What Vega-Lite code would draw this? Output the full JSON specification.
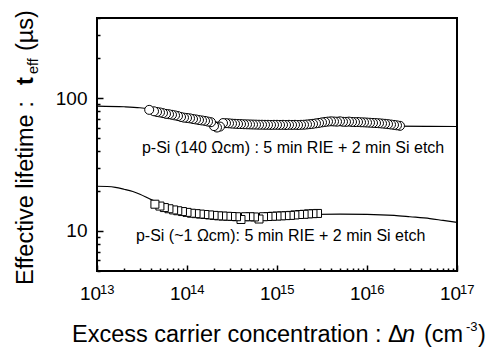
{
  "$schema": "https://vega.github.io/schema/vega-lite/v6.json",
  "width": 360,
  "height": 253,
  "autosize": {"type": "none"},
  "padding": {"left": 97, "top": 18, "right": 41, "bottom": 78},
  "background": "white",
  "config": {
    "view": {"stroke": "black", "strokeWidth": 2},
    "font": "Liberation Sans",
    "text": {"font": "Liberation Sans", "color": "black"}
  },
  "datasets": {
    "fit": [
      {"s": "a", "n": 1e13, "tau": 87}, {"s": "a", "n": 2e13, "tau": 86}, {"s": "a", "n": 3e13, "tau": 84.5},
      {"s": "a", "n": 4e13, "tau": 82.5}, {"s": "a", "n": 5e13, "tau": 80}, {"s": "a", "n": 7e13, "tau": 76},
      {"s": "a", "n": 1e14, "tau": 71.5}, {"s": "a", "n": 1.5e14, "tau": 68}, {"s": "a", "n": 2e14, "tau": 66.3},
      {"s": "a", "n": 3e14, "tau": 64.5}, {"s": "a", "n": 5e14, "tau": 63.3}, {"s": "a", "n": 1e15, "tau": 62.6},
      {"s": "a", "n": 2e15, "tau": 62.3}, {"s": "a", "n": 5e15, "tau": 62.2}, {"s": "a", "n": 1e16, "tau": 62},
      {"s": "a", "n": 2e16, "tau": 61.5}, {"s": "a", "n": 5e16, "tau": 61.2}, {"s": "a", "n": 1e17, "tau": 61.1},
      {"s": "b", "n": 1e13, "tau": 21.7}, {"s": "b", "n": 1.3e13, "tau": 21.6}, {"s": "b", "n": 1.6e13, "tau": 21.3},
      {"s": "b", "n": 2e13, "tau": 20.6}, {"s": "b", "n": 2.5e13, "tau": 19.8}, {"s": "b", "n": 3e13, "tau": 18.9},
      {"s": "b", "n": 4e13, "tau": 17.2}, {"s": "b", "n": 5e13, "tau": 16.2}, {"s": "b", "n": 7e13, "tau": 14.9},
      {"s": "b", "n": 1e14, "tau": 14.0}, {"s": "b", "n": 1.5e14, "tau": 13.4}, {"s": "b", "n": 2e14, "tau": 13.2},
      {"s": "b", "n": 3e14, "tau": 13.0}, {"s": "b", "n": 5e14, "tau": 12.9}, {"s": "b", "n": 1e15, "tau": 13.0},
      {"s": "b", "n": 2e15, "tau": 13.3}, {"s": "b", "n": 5e15, "tau": 13.4}, {"s": "b", "n": 1e16, "tau": 13.35},
      {"s": "b", "n": 2e16, "tau": 13.1}, {"s": "b", "n": 3e16, "tau": 12.8}, {"s": "b", "n": 5e16, "tau": 12.4},
      {"s": "b", "n": 7e16, "tau": 12.0}, {"s": "b", "n": 1e17, "tau": 11.6}
    ],
    "circ": [
      {"n": 3.8e13, "tau": 81.5}, {"n": 4.3e13, "tau": 79.5}, {"n": 4.64e13, "tau": 78.5}, {"n": 5.01e13, "tau": 77.9},
      {"n": 5.41e13, "tau": 77.0}, {"n": 5.84e13, "tau": 76.0}, {"n": 6.31e13, "tau": 75.5}, {"n": 6.81e13, "tau": 74.8},
      {"n": 7.36e13, "tau": 74.0}, {"n": 7.94e13, "tau": 73.2}, {"n": 8.58e13, "tau": 72.0}, {"n": 9.26e13, "tau": 71.2},
      {"n": 1.0e14, "tau": 70.8}, {"n": 1.08e14, "tau": 70.3}, {"n": 1.166e14, "tau": 69.5}, {"n": 1.259e14, "tau": 69.0},
      {"n": 1.359e14, "tau": 68.3}, {"n": 1.468e14, "tau": 67.8}, {"n": 1.585e14, "tau": 67.3}, {"n": 1.711e14, "tau": 66.5},
      {"n": 1.848e14, "tau": 65.8}, {"n": 1.995e14, "tau": 61.5}, {"n": 2.154e14, "tau": 60.0}, {"n": 2.326e14, "tau": 61.0},
      {"n": 2.512e14, "tau": 64.8}, {"n": 2.712e14, "tau": 64.7}, {"n": 2.929e14, "tau": 64.5}, {"n": 3.162e14, "tau": 64.2},
      {"n": 3.415e14, "tau": 64.0}, {"n": 3.687e14, "tau": 63.8}, {"n": 3.981e14, "tau": 63.7}, {"n": 4.299e14, "tau": 63.5},
      {"n": 4.642e14, "tau": 63.4}, {"n": 5.012e14, "tau": 63.3}, {"n": 5.412e14, "tau": 63.2}, {"n": 5.843e14, "tau": 63.1},
      {"n": 6.31e14, "tau": 63.0}, {"n": 6.813e14, "tau": 63.0}, {"n": 7.356e14, "tau": 62.9}, {"n": 7.943e14, "tau": 62.9},
      {"n": 8.577e14, "tau": 62.8}, {"n": 9.261e14, "tau": 62.9}, {"n": 1e15, "tau": 62.9}, {"n": 1.08e15, "tau": 62.8},
      {"n": 1.166e15, "tau": 62.9}, {"n": 1.259e15, "tau": 62.7}, {"n": 1.359e15, "tau": 62.9}, {"n": 1.468e15, "tau": 62.8},
      {"n": 1.585e15, "tau": 62.9}, {"n": 1.711e15, "tau": 62.7}, {"n": 1.848e15, "tau": 62.9}, {"n": 1.995e15, "tau": 63.0},
      {"n": 2.154e15, "tau": 63.3}, {"n": 2.326e15, "tau": 63.6}, {"n": 2.512e15, "tau": 64.0}, {"n": 2.712e15, "tau": 64.5},
      {"n": 2.929e15, "tau": 65.0}, {"n": 3.162e15, "tau": 65.6}, {"n": 3.415e15, "tau": 66.1}, {"n": 3.687e15, "tau": 66.5},
      {"n": 3.981e15, "tau": 66.8}, {"n": 4.299e15, "tau": 66.6}, {"n": 4.642e15, "tau": 66.4}, {"n": 5.012e15, "tau": 66.8},
      {"n": 5.412e15, "tau": 66.3}, {"n": 5.843e15, "tau": 66.2}, {"n": 6.31e15, "tau": 66.5}, {"n": 6.813e15, "tau": 66.1},
      {"n": 7.356e15, "tau": 65.9}, {"n": 7.943e15, "tau": 66.0}, {"n": 8.577e15, "tau": 65.7}, {"n": 9.261e15, "tau": 65.6},
      {"n": 1e16, "tau": 65.4}, {"n": 1.08e16, "tau": 65.2}, {"n": 1.166e16, "tau": 65.0}, {"n": 1.259e16, "tau": 64.8},
      {"n": 1.359e16, "tau": 64.6}, {"n": 1.468e16, "tau": 64.3}, {"n": 1.585e16, "tau": 64.0}, {"n": 1.711e16, "tau": 63.6},
      {"n": 1.848e16, "tau": 63.2}, {"n": 1.995e16, "tau": 62.8}, {"n": 2.154e16, "tau": 62.3}, {"n": 2.326e16, "tau": 61.8}
    ],
    "sq": [
      {"n": 4.4e13, "tau": 15.9}, {"n": 5.0e13, "tau": 15.4}, {"n": 5.6e13, "tau": 15.0}, {"n": 6.3e13, "tau": 14.7},
      {"n": 7.1e13, "tau": 14.4}, {"n": 7.9e13, "tau": 14.2}, {"n": 8.9e13, "tau": 14.0}, {"n": 1.0e14, "tau": 13.8},
      {"n": 1.12e14, "tau": 13.6}, {"n": 1.26e14, "tau": 13.5}, {"n": 1.41e14, "tau": 13.4}, {"n": 1.58e14, "tau": 13.3},
      {"n": 1.78e14, "tau": 13.2}, {"n": 2.0e14, "tau": 13.1}, {"n": 2.24e14, "tau": 13.0}, {"n": 2.51e14, "tau": 12.95},
      {"n": 2.82e14, "tau": 12.9}, {"n": 3.16e14, "tau": 12.85}, {"n": 3.55e14, "tau": 12.8}, {"n": 3.98e14, "tau": 12.2},
      {"n": 4.47e14, "tau": 12.8}, {"n": 5.01e14, "tau": 12.8}, {"n": 5.62e14, "tau": 12.75}, {"n": 6.31e14, "tau": 12.3},
      {"n": 7.08e14, "tau": 12.8}, {"n": 7.94e14, "tau": 12.85}, {"n": 8.91e14, "tau": 12.9}, {"n": 1.0e15, "tau": 12.95},
      {"n": 1.12e15, "tau": 13.0}, {"n": 1.26e15, "tau": 13.05}, {"n": 1.41e15, "tau": 13.1}, {"n": 1.58e15, "tau": 13.2},
      {"n": 1.78e15, "tau": 13.3}, {"n": 2.0e15, "tau": 13.35}, {"n": 2.24e15, "tau": 13.45}, {"n": 2.51e15, "tau": 13.5},
      {"n": 2.82e15, "tau": 13.55}
    ],
    "exps": [
      {"n": 1e13, "e": "13"}, {"n": 1e14, "e": "14"}, {"n": 1e15, "e": "15"}, {"n": 1e16, "e": "16"}, {"n": 1e17, "e": "17"}
    ],
    "notes": [
      {"n": 3.16e13, "tau": 38.9, "label": "p-Si (140 Ωcm) : 5 min RIE + 2 min Si etch"},
      {"n": 2.71e13, "tau": 8.42, "label": "p-Si (~1 Ωcm): 5 min RIE + 2 min Si etch"}
    ],
    "one": [{"k": 1}]
  },
  "resolve": {"axis": {"x": "independent", "y": "independent"}},
  "layer": [
    {
      "data": {"name": "fit"},
      "mark": {"type": "line", "color": "black", "strokeWidth": 1.2, "interpolate": "monotone"},
      "encoding": {
        "x": {"field": "n", "type": "quantitative",
          "scale": {"type": "log", "domain": [1e13, 1e17], "nice": false},
          "axis": {"orient": "bottom", "values": [1e13, 1e14, 1e15, 1e16, 1e17], "offset": -6, "ticks": true, "tickSize": 6, "tickWidth": 1.5,
            "tickColor": "black", "domain": false, "grid": false, "labelExpr": "'10'", "labelFontSize": 19,
            "labelColor": "black", "labelFont": "Liberation Sans", "labelOffset": -7, "labelPadding": 13,
            "labelFlush": false, "labelOverlap": false, "labelBound": false, "title": null}},
        "y": {"field": "tau", "type": "quantitative",
          "scale": {"type": "log", "domain": [5, 400], "nice": false},
          "axis": {"orient": "left", "values": [10, 100], "offset": -6, "ticks": true, "tickSize": 6, "tickWidth": 1.5, "tickColor": "black",
            "domain": false, "grid": false, "labelFontSize": 19, "labelColor": "black", "labelFont": "Liberation Sans",
            "labelPadding": 10, "labelOverlap": false, "labelBound": false, "labelFlush": false, "format": "d", "title": null}},
        "detail": {"field": "s"}
      }
    },
    {
      "data": {"name": "sq"},
      "mark": {"type": "point", "shape": "square", "size": 64, "filled": true, "fill": "white", "stroke": "black", "strokeWidth": 1, "opacity": 1},
      "encoding": {
        "x": {"field": "n", "type": "quantitative",
          "axis": {"orient": "bottom", "values": [2e13,3e13,4e13,5e13,6e13,7e13,8e13,9e13,2e14,3e14,4e14,5e14,6e14,7e14,8e14,9e14,2e15,3e15,4e15,5e15,6e15,7e15,8e15,9e15,2e16,3e16,4e16,5e16,6e16,7e16,8e16,9e16],
            "offset": -3, "ticks": true, "tickSize": 3, "tickWidth": 1.5, "tickColor": "black", "labels": false, "domain": false, "grid": false, "title": null}},
        "y": {"field": "tau", "type": "quantitative",
          "axis": {"orient": "left", "values": [5,6,7,8,9,20,30,40,50,60,70,80,90,200,300,400],
            "offset": -3, "ticks": true, "tickSize": 3, "tickWidth": 1.5, "tickColor": "black", "labels": false, "domain": false, "grid": false, "title": null}},
        "order": {"field": "n", "sort": "descending"}
      }
    },
    {
      "data": {"name": "circ"},
      "mark": {"type": "point", "shape": "circle", "size": 81, "filled": true, "fill": "white", "stroke": "black", "strokeWidth": 1, "opacity": 1},
      "encoding": {
        "x": {"field": "n", "type": "quantitative", "axis": null},
        "y": {"field": "tau", "type": "quantitative", "axis": null},
        "order": {"field": "n", "sort": "descending"}
      }
    },
    {
      "data": {"name": "notes"},
      "mark": {"type": "text", "align": "left", "baseline": "alphabetic", "fontSize": 16, "font": "Liberation Sans", "color": "black"},
      "encoding": {
        "x": {"field": "n", "type": "quantitative", "axis": null},
        "y": {"field": "tau", "type": "quantitative", "axis": null},
        "text": {"field": "label"}
      }
    },
    {
      "data": {"name": "exps"},
      "mark": {"type": "text", "align": "left", "baseline": "alphabetic", "fontSize": 13, "dx": 3, "dy": 23, "font": "Liberation Sans", "color": "black"},
      "encoding": {
        "x": {"field": "n", "type": "quantitative", "axis": null},
        "y": {"datum": 5, "type": "quantitative", "axis": null},
        "text": {"field": "e"}
      }
    },
    {
      "data": {"name": "one"},
      "mark": {"type": "text", "text": "Effective lifetime : ", "angle": 270, "align": "left", "baseline": "alphabetic", "fontSize": 23.5, "dx": -14, "dy": -64, "font": "Liberation Sans", "color": "black"},
      "encoding": {"x": {"datum": 1e13, "type": "quantitative", "axis": null}, "y": {"datum": 5, "type": "quantitative", "axis": null}}
    },
    {
      "data": {"name": "one"},
      "mark": {"type": "text", "text": "t", "angle": 270, "align": "left", "baseline": "alphabetic", "fontSize": 23.5, "fontWeight": "bold", "dx": 186, "dy": -64, "font": "Liberation Sans", "color": "black"},
      "encoding": {"x": {"datum": 1e13, "type": "quantitative", "axis": null}, "y": {"datum": 5, "type": "quantitative", "axis": null}}
    },
    {
      "data": {"name": "one"},
      "mark": {"type": "text", "text": "eff", "angle": 270, "align": "left", "baseline": "alphabetic", "fontSize": 14.5, "dx": 197, "dy": -59, "font": "Liberation Sans", "color": "black"},
      "encoding": {"x": {"datum": 1e13, "type": "quantitative", "axis": null}, "y": {"datum": 5, "type": "quantitative", "axis": null}}
    },
    {
      "data": {"name": "one"},
      "mark": {"type": "text", "text": "(µs)", "angle": 270, "align": "left", "baseline": "alphabetic", "fontSize": 23.5, "dx": 220, "dy": -64, "font": "Liberation Sans", "color": "black"},
      "encoding": {"x": {"datum": 1e13, "type": "quantitative", "axis": null}, "y": {"datum": 5, "type": "quantitative", "axis": null}}
    },
    {
      "data": {"name": "one"},
      "mark": {"type": "text", "text": "Excess carrier concentration : Δ", "align": "left", "baseline": "alphabetic", "fontSize": 23.5, "dx": -25, "dy": 71, "font": "Liberation Sans", "color": "black"},
      "encoding": {"x": {"datum": 1e13, "type": "quantitative", "axis": null}, "y": {"datum": 5, "type": "quantitative", "axis": null}}
    },
    {
      "data": {"name": "one"},
      "mark": {"type": "text", "text": "n", "fontStyle": "italic", "align": "left", "baseline": "alphabetic", "fontSize": 23.5, "dx": 305, "dy": 71, "font": "Liberation Sans", "color": "black"},
      "encoding": {"x": {"datum": 1e13, "type": "quantitative", "axis": null}, "y": {"datum": 5, "type": "quantitative", "axis": null}}
    },
    {
      "data": {"name": "one"},
      "mark": {"type": "text", "text": "(cm", "align": "left", "baseline": "alphabetic", "fontSize": 23.5, "dx": 327, "dy": 71, "font": "Liberation Sans", "color": "black"},
      "encoding": {"x": {"datum": 1e13, "type": "quantitative", "axis": null}, "y": {"datum": 5, "type": "quantitative", "axis": null}}
    },
    {
      "data": {"name": "one"},
      "mark": {"type": "text", "text": "-3", "align": "left", "baseline": "alphabetic", "fontSize": 13, "dx": 369, "dy": 60, "font": "Liberation Sans", "color": "black"},
      "encoding": {"x": {"datum": 1e13, "type": "quantitative", "axis": null}, "y": {"datum": 5, "type": "quantitative", "axis": null}}
    },
    {
      "data": {"name": "one"},
      "mark": {"type": "text", "text": ")", "align": "left", "baseline": "alphabetic", "fontSize": 23.5, "dx": 381, "dy": 71, "font": "Liberation Sans", "color": "black"},
      "encoding": {"x": {"datum": 1e13, "type": "quantitative", "axis": null}, "y": {"datum": 5, "type": "quantitative", "axis": null}}
    }
  ]
}
